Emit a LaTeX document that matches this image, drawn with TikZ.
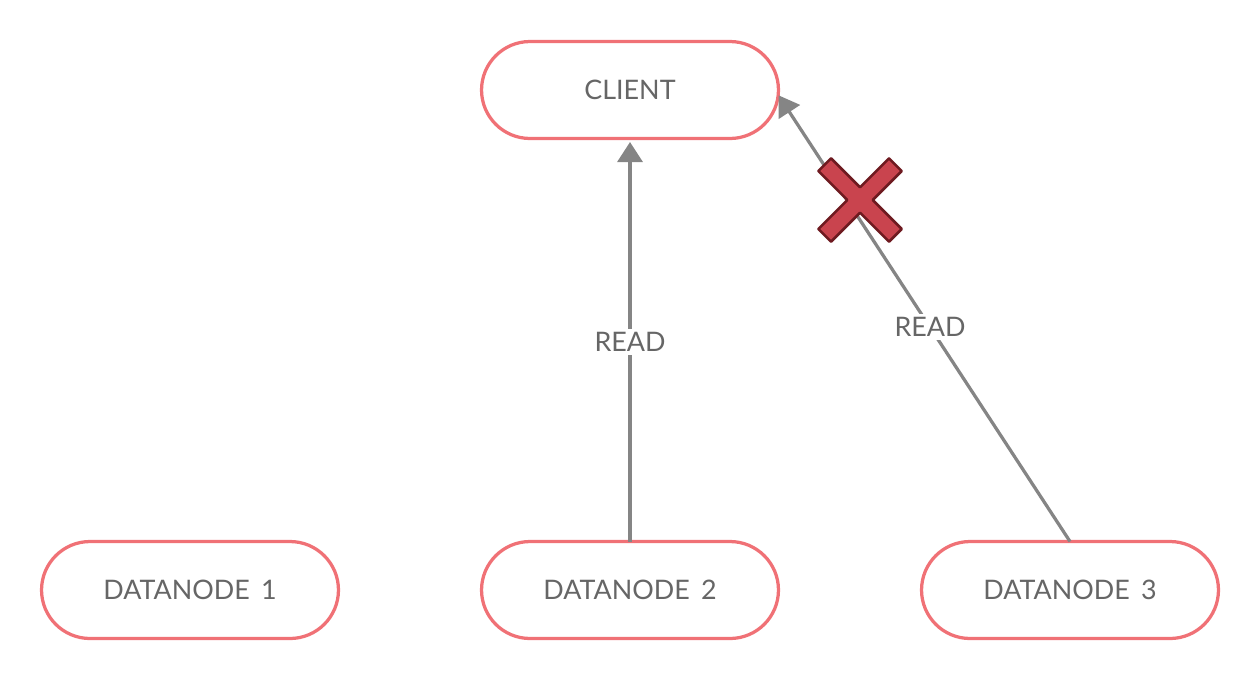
\documentclass[tikz,border=0pt]{standalone}
\usepackage{fontspec}
\setmainfont{Lato}
\usepackage{xcolor}
\usetikzlibrary{arrows.meta,positioning}

\definecolor{boxred}{HTML}{F07176}
\definecolor{txtgray}{HTML}{666666}
\definecolor{flowgray}{HTML}{858585}
\definecolor{crossfill}{HTML}{C9444E}
\definecolor{crossline}{HTML}{6E1A20}

\begin{document}
\begin{tikzpicture}[x=0.02cm, y=-0.02cm,
		box/.style={draw=boxred, line width=0.065cm, rectangle, rounded corners=0.97cm, fill=white,
			minimum width=5.94cm, minimum height=1.94cm, outer sep=0pt, text=txtgray,
			font=\fontsize{15.3}{18}\selectfont},
		flow/.style={draw=flowgray, line width=0.065cm,
			-{Triangle[length=0.4cm, width=0.5cm]}},
		lbl/.style={fill=white, text=txtgray, inner sep=2pt,
			font=\fontsize{15.3}{18}\selectfont}]
		\useasboundingbox (0,0) rectangle (1260,680);

		\node[box] (client) at (630,90) {CLIENT};
		\node[box] (dn1) at (190,590) {DATANODE\ \,1};
		\node[box] (dn2) at (630,590) {DATANODE\ \,2};
		\node[box] (dn3) at (1070,590) {DATANODE\ \,3};

		\draw[flow] (dn2.north) -- node[lbl] {READ} ([yshift=-2]client.south);
		\draw[flow] (dn3.north) -- node[lbl, pos=0.48] {READ} ([yshift=-3]client.east);

		% failed read
		\coordinate (fail) at (860,200);
		\begin{scope}[shift={(fail)}, rotate=45]
			\filldraw[fill=crossfill, draw=crossline, line width=0.05cm, line join=round]
				(50,9) -- (9,9) -- (9,50) -- (-9,50) -- (-9,9) -- (-50,9) -- (-50,-9)
				-- (-9,-9) -- (-9,-50) -- (9,-50) -- (9,-9) -- (50,-9) -- cycle;
		\end{scope}
	\end{tikzpicture}
\end{document}
